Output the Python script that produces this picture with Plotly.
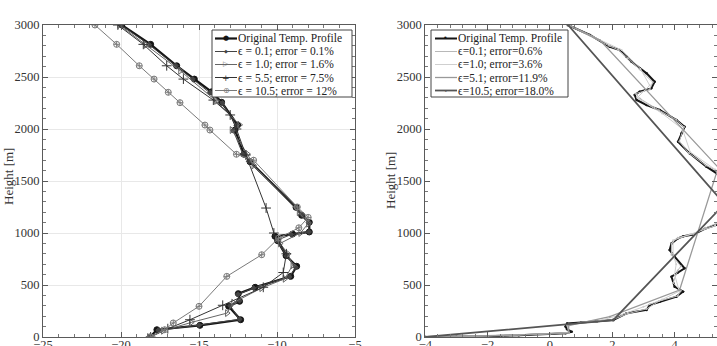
import plotly.graph_objects as go

# ---------------- Left panel data (temperature [°C] vs height [m]) ----------------
left_orig_x = [-18.14, -17.7, -14.94, -12.33, -13.1, -12.4, -12.48, -11.4, -9.12, -8.74, -9.42, -9.96, -10.13, -9.0, -7.93, -7.93, -8.42, -8.78, -11.73, -12.12, -12.69, -12.52, -13.55, -14.19, -15.3, -16.43, -18.1, -19.95]
left_orig_y = [0, 70, 112, 166, 295, 343, 417, 478, 583, 680, 782, 926, 968, 990, 1010, 1103, 1170, 1247, 1686, 1757, 1990, 2038, 2257, 2358, 2480, 2608, 2814, 3000]

left_e01_x = [-18.1, -17.6, -15.0, -12.4, -13.0, -12.4, -12.5, -11.5, -9.2, -8.8, -9.4, -10.0, -9.1, -7.95, -7.95, -8.4, -8.8, -11.8, -12.2, -12.8, -12.6, -13.5, -14.3, -15.4, -16.5, -18.2, -20.0]
left_e01_y = [0, 65, 115, 170, 300, 350, 410, 470, 580, 670, 780, 930, 985, 1010, 1100, 1175, 1250, 1690, 1760, 1985, 2030, 2250, 2350, 2480, 2610, 2810, 3000]

left_e10_x = [-18.2, -17.3, -15.5, -13.2, -12.8, -11.0, -9.5, -9.0, -9.3, -9.8, -8.5, -8.0, -8.6, -11.5, -11.9, -12.9, -12.4, -13.9, -16.2, -18.4, -20.1]
left_e10_y = [0, 60, 140, 230, 330, 470, 560, 690, 800, 900, 1000, 1090, 1200, 1650, 1760, 1990, 2040, 2270, 2560, 2810, 3000]

left_e55_x = [-18.1, -17.0, -15.58, -13.48, -10.88, -9.6, -9.4, -10.2, -10.7, -12.0, -12.6, -13.0, -14.08, -16.0, -17.07, -18.57, -20.2]
left_e55_y = [0, 80, 166, 305, 478, 620, 800, 1000, 1240, 1750, 2000, 2135, 2278, 2480, 2608, 2814, 3000]

left_e105_x = [-18.1, -17.2, -16.65, -15.0, -13.22, -10.98, -9.9, -8.6, -8.0, -8.7, -11.5, -12.6, -14.3, -14.62, -16.22, -16.97, -17.88, -18.83, -20.28, -21.67]
left_e105_y = [0, 70, 135, 295, 583, 791, 950, 1050, 1150, 1250, 1700, 1757, 1990, 2038, 2253, 2353, 2480, 2608, 2814, 3000]

left_names = ["Original Temp. Profile", "ϵ = 0.1; error = 0.1%", "ϵ = 1.0; error = 1.6%",
              "ϵ = 5.5; error = 7.5%", "ϵ = 10.5; error = 12%"]

# ---------------- Right panel data ----------------
right_orig_x = [-4.0, -3.0, -2.0, -1.0, 0.0, 0.5, 0.7, 0.55, 0.5, 0.55, 1.0, 1.5, 2.03, 2.46, 3.1, 3.2, 3.52, 4.06, 4.27, 4.0, 3.9, 4.1, 4.32, 4.0, 3.84, 3.9, 4.11, 4.28, 4.6, 5.0, 5.35,
                5.7, 5.9, 5.6, 5.35, 5.02, 4.48, 4.11, 4.22, 4.32, 4.06, 3.52, 3.1, 2.78, 2.72, 2.88, 3.25, 3.36, 3.1, 2.88, 2.62, 2.46, 2.24, 1.92, 1.28, 0.58]
right_orig_y = [0, 3, 8, 18, 28, 35, 50, 75, 100, 130, 140, 150, 163, 228, 260, 308, 340, 388, 436, 484, 580, 620, 660, 772, 836, 900, 949, 968, 985, 1045, 1080,
                1200, 1350, 1500, 1574, 1638, 1766, 1878, 1958, 2022, 2086, 2183, 2231, 2279, 2327, 2359, 2391, 2455, 2535, 2583, 2647, 2695, 2759, 2791, 2904, 3000]

right_e01_x = [-4.0, -2.0, 0.0, 0.6, 0.55, 1.0, 2.0, 2.5, 3.1, 3.5, 4.1, 4.2, 3.95, 4.1, 4.2, 3.9, 3.9, 4.1, 4.6, 5.0, 5.4, 5.8, 5.5, 5.0, 4.45, 4.15, 4.3, 4.05, 3.5, 2.9, 2.75, 3.2, 3.3, 2.9, 2.5, 2.2, 1.9, 0.6]
right_e01_y = [0, 10, 30, 45, 110, 140, 165, 225, 270, 345, 395, 445, 520, 640, 680, 790, 900, 955, 990, 1050, 1100, 1350, 1580, 1650, 1770, 1880, 2020, 2090, 2180, 2290, 2340, 2380, 2450, 2570, 2680, 2760, 2800, 3000]

right_e10_x = [-4.0, -1.5, 0.6, 0.6, 1.5, 2.3, 3.0, 3.6, 4.15, 4.0, 4.05, 3.95, 3.95, 4.5, 5.3, 5.8, 5.3, 4.5, 4.25, 3.6, 2.8, 3.2, 2.9, 2.3, 0.6]
right_e10_y = [0, 15, 40, 120, 150, 215, 290, 360, 440, 600, 700, 800, 930, 990, 1070, 1350, 1610, 1780, 2000, 2150, 2300, 2420, 2580, 2760, 3000]

right_e51_x = [-4.0, -1.0, 0.6, 0.6, 1.92, 4.16, 5.4, 1.6, 0.58]
right_e51_y = [0, 20, 40, 110, 195, 452, 1630, 2855, 3000]

right_e105_x = [-4.0, 2.03, 5.6, 0.58]
right_e105_y = [0, 163, 1280, 3000]

right_names = ["Original Temp. Profile", "ϵ=0.1; error=0.6%", "ϵ=1.0; error=3.6%",
               "ϵ=5.1; error=11.9%", "ϵ=10.5; error=18.0%"]

SERIF = "Liberation Serif"

# styles: (line color, line width, marker symbol, marker size, legend glyph, glyph size)
left_styles = [
    ("#151515", 2.2, "circle", 6, "●", 7),
    ("#444444", 1.0, "diamond", 4, "◆", 5),
    ("#666666", 1.0, "triangle-right-open", 6, "▷", 7),
    ("#333333", 1.0, "cross-thin-open", 7, "+", 9),
    ("#7a7a7a", 1.0, "circle-cross-open", 6, "⊕", 8),
]
right_styles = [
    ("#151515", 2.0, 2.5, "•", 8),
    ("#b8b8b8", 1.0, 2.0, "", 0),
    ("#cfcfcf", 1.0, 2.0, "", 0),
    ("#999999", 1.3, 2.0, "", 0),
    ("#555555", 1.8, 3.0, "•", 6),
]

fig = go.Figure()
left_data = [(left_orig_x, left_orig_y), (left_e01_x, left_e01_y), (left_e10_x, left_e10_y),
             (left_e55_x, left_e55_y), (left_e105_x, left_e105_y)]
for (xs, ys), st, nm in zip(left_data, left_styles, left_names):
    col, lw, sym, ms, _, _ = st
    mk = dict(symbol=sym, size=ms, color=col, line=dict(width=1, color=col))
    fig.add_trace(go.Scatter(x=xs, y=ys, mode="lines+markers", name=nm,
                             line=dict(color=col, width=lw), marker=mk,
                             xaxis="x", yaxis="y", showlegend=False))

right_data = [(right_orig_x, right_orig_y), (right_e01_x, right_e01_y), (right_e10_x, right_e10_y),
              (right_e51_x, right_e51_y), (right_e105_x, right_e105_y)]
for (xs, ys), st, nm in zip(right_data, right_styles, right_names):
    col, lw, ms, _, _ = st
    fig.add_trace(go.Scatter(x=xs, y=ys, mode="lines+markers", name=nm,
                             line=dict(color=col, width=lw), marker=dict(symbol="circle", size=ms, color=col),
                             xaxis="x2", yaxis="y2", showlegend=False))

W, H = 717, 346
left_px = (43, 355)
right_px = (425.3, 717)
top_py, bot_py = 25, 337
ydom = [(H - bot_py) / H, (H - top_py) / H]

def fx(px):
    return px / W

def fy(py):
    return (H - py) / H

axis_common = dict(
    showline=True, linecolor="#5a5a5a", linewidth=1, mirror="allticks",
    ticks="inside", ticklen=5, tickwidth=1, tickcolor="#5a5a5a",
    tickfont=dict(family=SERIF, size=12.5, color="#333333"),
    zeroline=False, automargin=False,
)

shapes = []
annotations = []

# manual compact legends (row spacing as in the reference)
legend_rows = [38.5, 51.5, 64.5, 77.5, 90.5]
LEG_FONT = 11.5
# left legend
shapes.append(dict(type="rect", xref="paper", yref="paper", x0=fx(212), x1=fx(352), y0=fy(97), y1=fy(30),
                   line=dict(color="#444444", width=1), fillcolor="white", layer="above"))
for row, st, nm in zip(legend_rows, left_styles, left_names):
    col, lw, sym, ms, glyph, gsz = st
    shapes.append(dict(type="line", xref="paper", yref="paper", x0=fx(215), x1=fx(237), y0=fy(row), y1=fy(row),
                       line=dict(color=col, width=lw), layer="above"))
    annotations.append(dict(text=glyph, x=fx(226), y=fy(row), xref="paper", yref="paper", showarrow=False,
                            xanchor="center", yanchor="middle", borderpad=0,
                            font=dict(family="DejaVu Sans", size=gsz, color=col)))
    annotations.append(dict(text=nm, x=fx(237), y=fy(row), xref="paper", yref="paper", showarrow=False,
                            xanchor="left", yanchor="middle", borderpad=0,
                            font=dict(family=SERIF, size=LEG_FONT, color="#222222")))
# right legend
shapes.append(dict(type="rect", xref="paper", yref="paper", x0=fx(431), x1=fx(568), y0=fy(97), y1=fy(30),
                   line=dict(color="#444444", width=1), fillcolor="white", layer="above"))
for row, st, nm in zip(legend_rows, right_styles, right_names):
    col, lw, ms, glyph, gsz = st
    shapes.append(dict(type="line", xref="paper", yref="paper", x0=fx(435), x1=fx(457), y0=fy(row), y1=fy(row),
                       line=dict(color=col, width=lw), layer="above"))
    if glyph:
        annotations.append(dict(text=glyph, x=fx(446), y=fy(row), xref="paper", yref="paper", showarrow=False,
                                xanchor="center", yanchor="middle", borderpad=0,
                                font=dict(family="DejaVu Sans", size=gsz, color=col)))
    annotations.append(dict(text=nm, x=fx(457), y=fy(row), xref="paper", yref="paper", showarrow=False,
                            xanchor="left", yanchor="middle", borderpad=0,
                            font=dict(family=SERIF, size=LEG_FONT, color="#222222")))

annotations += [
    dict(text="Height [m]", x=fx(8), y=fy(177), xref="paper", yref="paper", xanchor="center", yanchor="middle",
         textangle=-90, showarrow=False, font=dict(family=SERIF, size=13, color="#333333")),
    dict(text="Height [m]", x=fx(390), y=fy(181), xref="paper", yref="paper", xanchor="center", yanchor="middle",
         textangle=-90, showarrow=False, font=dict(family=SERIF, size=13, color="#333333")),
]

fig.update_layout(
    width=W, height=H,
    margin=dict(l=0, r=0, t=0, b=0, autoexpand=False),
    paper_bgcolor="white", plot_bgcolor="white",
    showlegend=False,
    xaxis=dict(domain=[fx(left_px[0]), fx(left_px[1])], range=[-25, -5], tickvals=[-25, -20, -15, -10, -5],
               showgrid=True, gridcolor="#e8e8e8", ticklabelstandoff=-4,
               minor=dict(dtick=1, ticks="inside", ticklen=3, tickcolor="#777777", showgrid=False),
               anchor="y", **axis_common),
    yaxis=dict(domain=ydom, range=[0, 3000], tickvals=[0, 500, 1000, 1500, 2000, 2500, 3000],
               showgrid=True, gridcolor="#e8e8e8",
               minor=dict(dtick=100, ticks="inside", ticklen=3, tickcolor="#777777", showgrid=False),
               anchor="x", **axis_common),
    xaxis2=dict(domain=[fx(right_px[0]), 1.0], range=[-4, 5.36], tickvals=[-4, -2, 0, 2, 4],
                showgrid=False, ticklabelstandoff=-4,
                minor=dict(dtick=0.4, tick0=-4, ticks="inside", ticklen=3, tickcolor="#777777"),
                anchor="y2", **axis_common),
    yaxis2=dict(domain=ydom, range=[0, 3000], tickvals=[0, 500, 1000, 1500, 2000, 2500, 3000],
                showgrid=False,
                minor=dict(dtick=100, ticks="inside", ticklen=3, tickcolor="#777777"),
                anchor="x2", **axis_common),
    shapes=shapes,
    annotations=annotations,
)

fig.write_html("out.html")
